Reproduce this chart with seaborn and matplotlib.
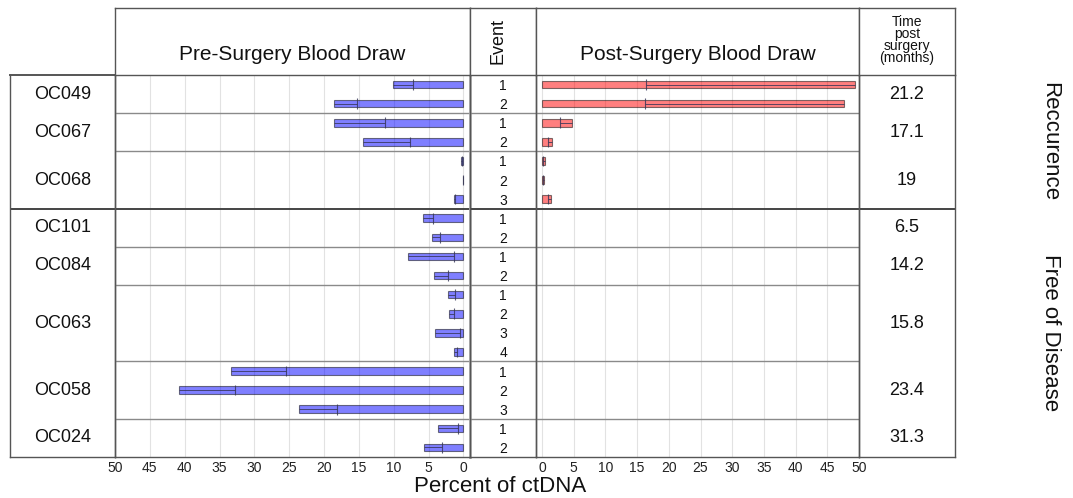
import numpy as np
import pandas as pd
import seaborn as sns
import matplotlib.pyplot as plt
from matplotlib.transforms import blended_transform_factory

# datos
patients = ["OC049", "OC067", "OC068", "OC101", "OC084", "OC063", "OC058", "OC024"]
n_events = [2, 2, 3, 2, 2, 4, 3, 2]
months = ["21.2", "17.1", "19", "6.5", "14.2", "15.8", "23.4", "31.3"]
groups = ["Reccurence", "Free of Disease"]
group_sizes = [3, 5]  # pacientes por grupo

pre_upper = [10.1, 18.5, 18.5, 14.4, 0.3, 0.0, 1.3, 5.8, 4.5, 7.95, 4.2,
             2.25, 2.0, 4.1, 1.3, 33.4, 40.8, 23.6, 3.6, 5.6]
pre_est = [7.2, 15.3, 11.2, 7.6, 0.2, 0.0, 1.15, 4.3, 3.3, 1.3, 2.2,
           1.25, 1.3, 0.5, 0.95, 25.4, 32.8, 18.1, 0.8, 3.1]
post_upper = [49.3, 47.7, 4.7, 1.5, 0.4, 0.35, 1.4, np.nan, np.nan, np.nan, np.nan,
              np.nan, np.nan, np.nan, np.nan, np.nan, np.nan, np.nan, np.nan, np.nan]
post_est = [16.4, 16.3, 2.8, 0.9, 0.2, 0.2, 1.0, np.nan, np.nan, np.nan, np.nan,
            np.nan, np.nan, np.nan, np.nan, np.nan, np.nan, np.nan, np.nan, np.nan]

df = pd.DataFrame({
    "patient": [p for p, n in zip(patients, n_events) for _ in range(n)],
    "event": [e + 1 for n in n_events for e in range(n)],
    "pre_upper": pre_upper, "pre_est": pre_est,
    "post_upper": post_upper, "post_est": post_est,
})
df["row"] = df["patient"] + "-" + df["event"].astype(str)
ypos = np.arange(len(df))
n_rows = len(df)

sns.set_theme(style="white")
plt.rcParams["font.family"] = ["Liberation Sans", "DejaVu Sans"]

W, H = 1073, 498
fig = plt.figure(figsize=(W / 100, H / 100), dpi=100)


def add_ax(x0, y0, x1, y1):
    return fig.add_axes([x0 / W, 1 - y1 / H, (x1 - x0) / W, (y1 - y0) / H])


line_c = "#555555"
sep_c = "#8a8a8a"
txt_c = "#111111"
ylim = (n_rows - 0.5, -0.5)
bounds = np.cumsum(n_events)[:-1] - 0.5
group_bound = np.cumsum(n_events)[group_sizes[0] - 1] - 0.5
centers = np.cumsum(n_events) - np.array(n_events) / 2 - 0.5

ax_lab = add_ax(10, 75, 115, 457)
ax_pre = add_ax(115, 75, 470, 457)
ax_ev = add_ax(470, 75, 536, 457)
ax_post = add_ax(536, 75, 859, 457)
ax_time = add_ax(859, 75, 955, 457)

h_pre = add_ax(115, 8, 470, 75)
h_ev = add_ax(470, 8, 536, 75)
h_post = add_ax(536, 8, 859, 75)
h_time = add_ax(859, 8, 955, 75)

# barras
for ax, col, est, color, xlim in [
    (ax_pre, "pre_upper", "pre_est", "blue", (50, -0.95)),
    (ax_post, "post_upper", "post_est", "red", (-0.95, 50)),
]:
    ax.set_xticks(range(0, 51, 5))
    ax.grid(axis="x", color="#e2e2e2", lw=0.8)
    ax.set_axisbelow(True)
    sns.barplot(data=df, x=col, y="row", orient="h", color=color, saturation=1,
                alpha=0.5, edgecolor="black", linewidth=0.8, width=0.4,
                errorbar=None, ax=ax)
    ax.hlines(ypos, df[est], df[col], color="#333355", lw=0.7, alpha=0.8)
    ax.vlines(df[est], ypos - 0.28, ypos + 0.28, color="#333355", lw=0.8, alpha=0.8)
    ax.set_xlim(*xlim)
    ax.set_xlabel("")
    ax.set_ylabel("")
    ax.set_yticks([])
    ax.tick_params(axis="x", length=0, pad=3, labelsize=10, colors="#222222")

for ax in [ax_lab, ax_pre, ax_ev, ax_post, ax_time]:
    ax.set_ylim(*ylim)
    if ax not in (ax_pre, ax_post):
        ax.set_xlim(0, 1)
        ax.set_xticks([])
        ax.set_yticks([])
    for s in ax.spines.values():
        s.set_color(line_c)
        s.set_linewidth(1.0)
    ax.set_facecolor("none")

# separadores entre pacientes
for ax in [ax_pre, ax_ev, ax_post]:
    for b in bounds:
        if b != group_bound:
            ax.axhline(b, color=sep_c, lw=1.0)
for ax in [ax_lab, ax_pre, ax_ev, ax_post, ax_time]:
    ax.axhline(group_bound, color="#444444", lw=1.4)
    ax.spines["top"].set_linewidth(1.4)

ax_pre.spines["right"].set_color("#b0b0b0")
ax_pre.spines["right"].set_linewidth(2.0)

# textos de columnas
for p, c in zip(patients, centers):
    ax_lab.text(0.5, c, p, ha="center", va="center", fontsize=13, color=txt_c)
for y, e in zip(ypos, df["event"]):
    ax_ev.text(0.5, y + 0.08, str(e), ha="center", va="center", fontsize=10, color=txt_c)
for m, c in zip(months, centers):
    ax_time.text(0.5, c, m, ha="center", va="center", fontsize=13, color=txt_c)

trans = blended_transform_factory(ax_time.transAxes, ax_time.transData)
gstart = 0
for g, size in zip(groups, group_sizes):
    rows = sum(n_events[gstart:gstart + size])
    first = sum(n_events[:gstart])
    ax_time.text(1.99, first + rows / 2 - 0.5, g, transform=trans, rotation=-90,
                 ha="center", va="center", fontsize=16, color=txt_c)
    gstart += size

# cabeceras
for ax in [h_pre, h_ev, h_post, h_time]:
    ax.set_xticks([])
    ax.set_yticks([])
    ax.set_xlim(0, 1)
    ax.set_ylim(0, 1)
    for s in ax.spines.values():
        s.set_color(line_c)
        s.set_linewidth(1.0)
h_pre.text(0.5, 0.3, "Pre-Surgery Blood Draw", ha="center", va="center", fontsize=15, color=txt_c)
h_post.text(0.5, 0.3, "Post-Surgery Blood Draw", ha="center", va="center", fontsize=15, color=txt_c)
h_ev.text(0.43, 0.5, "Event", rotation=90, ha="center", va="center", fontsize=13, color=txt_c)
h_time.text(0.5, 0.52, "Time\npost\nsurgery\n(months)", ha="center", va="center",
            fontsize=10, linespacing=0.8, color=txt_c)

fig.text(500 / W, 1 - 486 / H, "Percent of ctDNA", ha="center", va="center", fontsize=16, color=txt_c)

fig.savefig("out.png", dpi=100)
